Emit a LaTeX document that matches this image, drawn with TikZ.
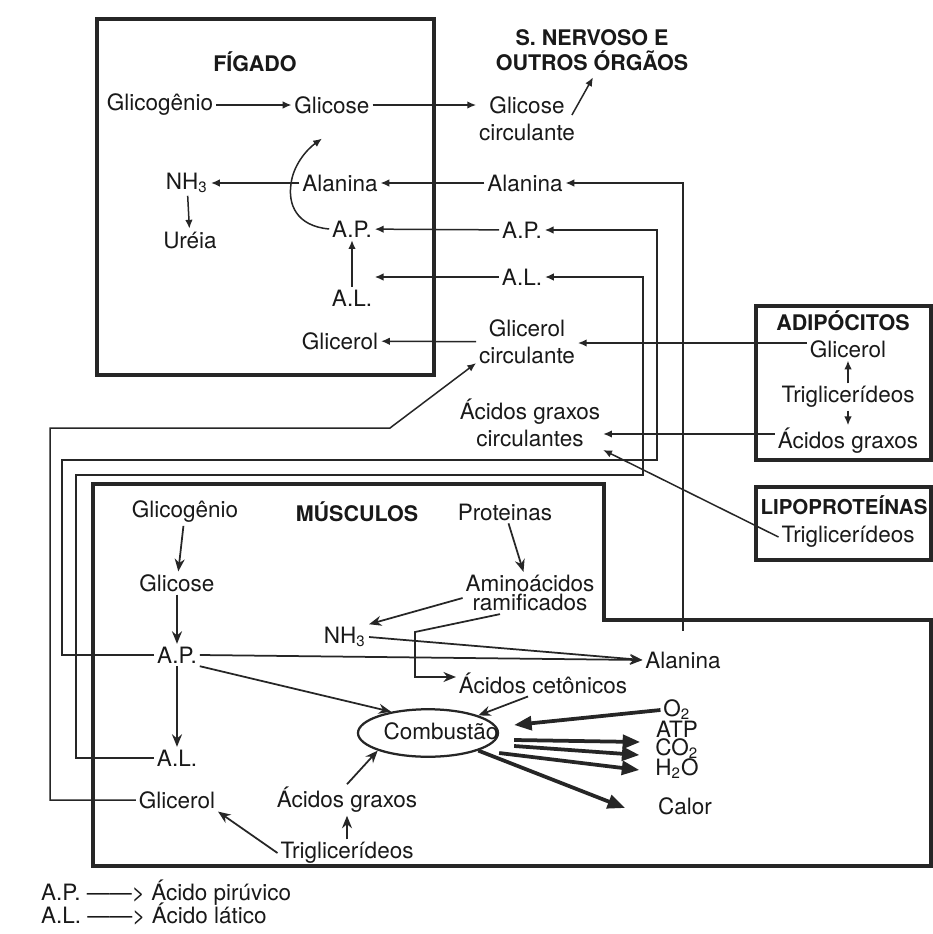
\documentclass[tikz,border=0pt]{standalone}
\usepackage{fontspec}
\setmainfont{TeX Gyre Heros}
\usetikzlibrary{arrows.meta,calc,shapes.geometric}

\begin{document}
\begin{tikzpicture}[x=0.4pt,y=-0.4pt,
  txt/.style={inner sep=1pt,font=\fontsize{9}{10.8}\selectfont,text=black!90,align=center},
  ttl/.style={txt,font=\fontsize{8.6}{9.8}\selectfont\bfseries},
  caixa/.style={line width=1.4pt,draw=black!85},
  seta/.style={line width=0.6pt,draw=black!85,-{Latex[length=3.5pt,width=3pt]}},
  setam/.style={line width=0.7pt,draw=black!85,-{Stealth[length=5pt,width=4pt]}},
  setag/.style={line width=1.5pt,draw=black!85,-{Triangle[length=7pt,width=5.5pt]}},
  linha/.style={line width=0.6pt,draw=black!85}]
\useasboundingbox[fill=white] (0,0) rectangle (933,934);
% caixas
\draw[caixa] (97,19) rectangle (434,375);
\draw[caixa] (756,306) rectangle (931,460);
\draw[caixa] (756,487) rectangle (931,560);
\draw[caixa,line width=1.6pt] (93,484) -- (604,484) -- (604,620) -- (931,620) -- (931,866) -- (93,866) -- cycle;
% figado
\node[ttl] (figado) at (255,62) {FÍGADO};
\node[txt] (fGlicogenio) at (160,105) {Glicogênio};
\node[txt] (fGlicose) at (332,105) {Glicose};
\node[txt] (fNH) at (187,183) {NH\textsubscript{3}};
\node[txt] (fUreia) at (190,240) {Uréia};
\node[txt] (fAlanina) at (340,183) {Alanina};
\node[txt] (fAP) at (352,229) {A.P.};
\node[txt] (fAL) at (352,298) {A.L.};
\node[txt] (fGlicerol) at (340,341) {Glicerol};
% sangue
\node[ttl] (snervoso) at (592,50) {S. NERVOSO E\\OUTROS ÓRGÃOS};
\node[txt] (cGlicose) at (527,119) {Glicose\\circulante};
\node[txt] (cAlanina) at (525,183) {Alanina};
\node[txt] (cAP) at (522,230) {A.P.};
\node[txt] (cAL) at (522,277) {A.L.};
\node[txt] (cGlicerol) at (527,342) {Glicerol\\circulante};
\node[txt] (cAcidos) at (530,423) {Ácidos graxos\\circulantes};
% adipocitos e lipoproteinas
\node[ttl] (adipocitos) at (843,321) {ADIPÓCITOS};
\node[txt] (aGlicerol) at (848,349) {Glicerol};
\node[txt] (aTrig) at (848,397) {Triglicerídeos};
\node[txt] (aAcidos) at (848,441) {Ácidos graxos};
\node[ttl,font=\fontsize{8.2}{9.8}\selectfont\bfseries] (lipo) at (844,505) {LIPOPROTEÍNAS};
\node[txt] (pTrig) at (848,537) {Triglicerídeos};
% musculos
\node[ttl] (musculos) at (357,512) {MÚSCULOS};
\node[txt] (mGlicogenio) at (185,512) {Glicogênio};
\node[txt] (mProteinas) at (505,512) {Proteinas};
\node[txt] (mAmino) at (530,593) {Aminoácidos\\[-3pt]ramificados};
\node[txt] (mGlicose) at (177,583) {Glicose};
\node[txt] (mAP) at (177,655) {A.P.};
\node[txt] (mNH) at (345,637) {NH\textsubscript{3}};
\node[txt] (mAlanina) at (683,660) {Alanina};
\node[txt] (mCetonicos) at (543,683) {Ácidos cetônicos};
\node[draw=black!85,line width=0.9pt,ellipse,minimum width=56pt,minimum height=19pt,inner sep=0pt] (combustao) at (428,733) {};
\node[txt] (combustaoTxt) at (441,731) {Combustão};
\node[txt] (mO) at (677,710) {O\textsubscript{2}};
\node[txt] (mATP) at (677,729) {ATP};
\node[txt] (mCO) at (677,749) {CO\textsubscript{2}};
\node[txt] (mHO) at (677,769) {H\textsubscript{2}O};
\node[txt] (mCalor) at (685,806) {Calor};
\node[txt] (mAL) at (177,758) {A.L.};
\node[txt] (mGlicerol) at (177,800) {Glicerol};
\node[txt] (mAcidos) at (347,800) {Ácidos graxos};
\node[txt] (mTrig) at (347,853) {Triglicerídeos};
% legenda
\node[txt,anchor=west] (legAP) at (38,893) {A.P. ——> Ácido pirúvico};
\node[txt,anchor=west] (legAL) at (38,914) {A.L. ——> Ácido lático};
% setas do figado
\draw[seta] (fGlicogenio) -- (fGlicose);
\draw[seta] (fGlicose) -- (fGlicose -| cGlicose.west);
\draw[seta] ($(cGlicose.east)+(-6,-4)$) -- ($(snervoso.south)+(1,4)$);
\draw[seta] (fAlanina) -- (fNH);
\draw[seta] (fNH) -- (fUreia);
\draw[seta] (fAL) -- (fAP);
\coordinate (fCurva) at (291,184);
\draw[seta] (fAP.west) .. controls (296,226) and (288,204) .. (fCurva) .. controls (293,166) and (306,150) .. ($(fGlicose.south)+(-10,22)$);
\draw[seta] (cAlanina) -- (fAlanina);
\draw[seta] (cAP) -- (fAP);
\draw[seta] (cAL) -- (cAL -| fAP.east);
\draw[seta] (cGlicerol) -- (fGlicerol);
% trilhos do sangue
\draw[seta] ($(mAlanina.north)+(0,-18)$) |- (cAlanina);
\draw[seta] (mAP.west) -| (62,460) -- (657,460) |- (cAP);
\draw[seta] (mAL.west) -| (76,475) -- (643,475) |- (cAL);
\draw[seta] (mGlicerol.west) -| (50,428) -- (390,428) -- ($(cGlicerol.south west)+(0,-4)$);
\draw[seta] ($(aGlicerol.west)+(0,-6)$) -- ($(aGlicerol.west -| cGlicerol.east)+(0,-6)$);
\draw[seta] ($(aAcidos.west)+(0,-7)$) -- ($(aAcidos.west -| cAcidos.east)+(0,-7)$);
\draw[seta] (pTrig.west) -- (cAcidos.south east);
\draw[seta] (aTrig) -- (aGlicerol);
\draw[seta] (aTrig) -- (aAcidos);
% setas dos musculos
\draw[setam] (mGlicogenio) -- (mGlicose);
\draw[setam] (mGlicose) -- (mAP);
\draw[setam] (mAP) -- (mAL);
\draw[setam] (mProteinas) -- (mAmino);
\draw[setam] ($(mAmino.west)+(0,5)$) -- (mNH.north east);
\draw[setam] ($(mAmino.south)+(-30,0)$) -- (415,632) |- ($(mCetonicos.west)+(0,-6)$);
\draw[setam] (mNH.east) -- (mAlanina.west);
\draw[setam] (mAP.east) -- (mAlanina.west);
\draw[setam] (mAP.south east) -- (combustao.150);
\draw[setam] ($(mCetonicos.south)+(-15,0)$) -- (combustao.north east);
\draw[setam] (mAcidos.north) -- (combustao.south west);
\draw[setam] (mTrig) -- (mAcidos);
\draw[setam] (mTrig.west) -- (mGlicerol.south east);
\draw[setag] (mO.west) -- ($(combustao.east)+(15,-8)$);
\draw[setag] ($(combustao.east)+(15,7)$) -- ($(mATP.west)+(-13,13)$);
\draw[setag] ($(combustao.east)+(15,13)$) -- ($(mCO.west)+(-13,6)$);
\draw[setag] ($(combustao.east)+(0,20)$) -- ($(mHO.west)+(-13,1)$);
\draw[setag] (combustao.south east) -- ($(mCalor.west)+(-30,2)$);
\end{tikzpicture}
\end{document}
